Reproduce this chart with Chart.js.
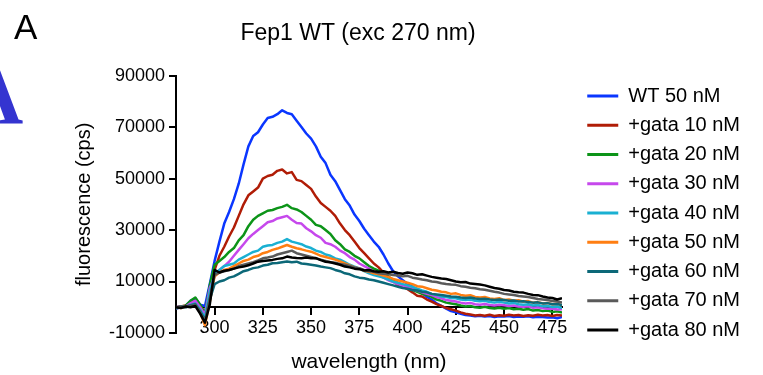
<!DOCTYPE html>
<html>
<head>
<meta charset="utf-8">
<title>Fep1 WT (exc 270 nm)</title>
<script src="https://cdn.jsdelivr.net/npm/chart.js@4.4.1/dist/chart.umd.min.js"></script>
<style>
  html, body { margin: 0; padding: 0; background: #fff; }
  #wrap { position: relative; width: 763px; height: 375px; overflow: hidden; }
  #chart { position: absolute; left: 0; top: 0; }
  .panel { position: absolute; line-height: 1; margin: 0; }
  #panel-a { left: 14px; top: 7px; font: 35px 'Liberation Sans', Arial, sans-serif; color: #000; }
  #panel-b { left: -36px; top: 49px; font: bold 82px 'Liberation Serif', 'Times New Roman', serif; color: #3434d0; }
</style>
</head>
<body>
<div id="wrap">
  <div class="panel" id="panel-b">A</div>
  <canvas id="chart" width="763" height="375"></canvas>
  <div class="panel" id="panel-a">A</div>
</div>
<script>
// ── Data ────────────────────────────────────────────────────────────────────

const WAVELENGTHS = [
  280, 282.5, 285, 287.5, 290, 292.5, 295, 297.5,
  300, 302.5, 305, 307.5, 310, 312.5, 315, 317.5,
  320, 322.5, 325, 327.5, 330, 332.5, 335, 337.5,
  340, 342.5, 345, 347.5, 350, 352.5, 355, 357.5,
  360, 362.5, 365, 367.5, 370, 372.5, 375, 377.5,
  380, 382.5, 385, 387.5, 390, 392.5, 395, 397.5,
  400, 402.5, 405, 407.5, 410, 412.5, 415, 417.5,
  420, 422.5, 425, 427.5, 430, 432.5, 435, 437.5,
  440, 442.5, 445, 447.5, 450, 452.5, 455, 457.5,
  460, 462.5, 465, 467.5, 470, 472.5, 475, 477.5,
  480
];

const WT_50 = [
  0, 300, 500, 2500, 3500, 1000, 500, 9000,
  18000, 25500, 32500, 37000, 42000, 48000, 55500, 62500,
  66500, 68000, 71000, 73500, 74000, 75000, 76500, 75500,
  75000, 72500, 70000, 67500, 65500, 62500, 58500, 56000,
  51500, 49000, 45500, 42000, 39500, 36000, 33500, 30500,
  28000, 25500, 23500, 20500, 17000, 14000, 12000, 10500,
  9000, 8000, 6500, 5500, 4000, 3000, 1500, 500,
  -500, -1500, -2000, -2500, -3000, -3200, -3500, -3300,
  -3600, -3400, -3800, -3500, -3600, -3400, -3800, -3600,
  -3700, -3500, -3900, -3700, -3800, -4000, -3900, -4300,
  -3800
];

const GATA_10 = [
  0, 300, 700, 1500, 2500, 500, -2000, 6000,
  14500, 20000, 23500, 27500, 31000, 35500, 40000, 43500,
  45000, 46500, 50000, 51000, 51500, 53000, 53500, 52000,
  52500, 49500, 49000, 47500, 46000, 43000, 40500, 39000,
  37500, 35500, 32500, 30000, 28000, 25500, 23000, 21000,
  19000, 17000, 15500, 13500, 11500, 10000, 8800, 8000,
  7000, 5800, 4500, 4200, 3000, 2200, 1200, 500,
  -300, -800, -1300, -2000, -2500, -2800, -3200, -3000,
  -3300, -2900, -3400, -3100, -3300, -2900, -3200, -3000,
  -3400, -3100, -3300, -2900, -3200, -3000, -3400, -3000,
  -3200
];

const GATA_20 = [
  -300, 200, 600, 2500, 3800, 1000, -2500, 8500,
  16500, 18000, 19500, 21500, 23000, 26000, 28000, 31500,
  34000, 35500, 36500, 37500, 37800, 38500, 39000, 39800,
  38500, 38000, 37000, 35500, 34000, 32000, 31500, 30000,
  28500, 26000, 24500, 22500, 21500, 20000, 19000, 17500,
  16000, 15000, 14200, 13000, 12000, 10500, 9500, 8500,
  7500, 6800, 6000, 5200, 4800, 4000, 3000, 2500,
  1800, 1500, 1200, 700, 300, 500, 0, -200,
  200, -300, -500, -200, -600, -300, -800, -600,
  -1000, -700, -1300, -1100, -1500, -1300, -1800, -1600,
  -2000
];

const GATA_30 = [
  -500, 0, 300, 1500, 2500, 0, -3000, 7500,
  12000, 14500, 16000, 17700, 20000, 22300, 24500, 26800,
  28500, 30000, 31500, 33000, 33500, 34500, 35000, 35500,
  34000, 32700, 32500, 30700, 29500, 28000, 27000, 25000,
  24500, 23500, 22000, 21000, 19500, 18500, 17000, 16000,
  15000, 13800, 12600, 11500, 10500, 9800, 9000, 8300,
  7800, 7000, 6500, 5800, 5200, 4700, 4000, 3500,
  2800, 2500, 2200, 1800, 1500, 1700, 1200, 1000,
  1300, 900, 700, 1000, 800, 500, 700, 300,
  200, 400, -200, 0, -400, -600, -500, -900,
  -800
];

const GATA_40 = [
  -300, 200, 0, 800, 1500, -1000, -4000, 6000,
  13000, 14500, 16000, 16500, 17000, 18500, 19500, 20500,
  21500, 22000, 23500, 24000, 24200, 25000, 25500, 26500,
  25500, 25000, 24500, 23600, 23000, 22000, 21500, 20500,
  20000, 19000, 18500, 17500, 16500, 15800, 15000, 14000,
  13200, 12500, 12000, 11500, 10800, 10000, 9500, 9000,
  8500, 8000, 7200, 6500, 6000, 5200, 4800, 4200,
  4000, 3600, 3500, 3000, 2800, 3000, 2500, 2300,
  2500, 2000, 1800, 2100, 1800, 1500, 1700, 1200,
  1000, 1200, 700, 900, 400, 500, 100, 300,
  -300
];

const GATA_50 = [
  0, -300, 300, 500, 1000, -2000, -7000, 2000,
  12000, 13500, 14500, 15000, 16000, 17000, 18000, 18500,
  19500, 20000, 21000, 21500, 22300, 22800, 23500, 24200,
  23500, 22900, 22500, 22000, 21600, 20800, 20000, 19500,
  19000, 18500, 17800, 17000, 16300, 15500, 15000, 14200,
  13800, 13200, 12800, 12300, 11800, 11000, 10500, 10000,
  9500, 9000, 8200, 8000, 7400, 6800, 6500, 6000,
  5800, 5200, 5400, 4800, 4500, 4700, 4000, 3800,
  4000, 3400, 3200, 3500, 2800, 3000, 2500, 2700,
  2200, 2400, 1800, 2000, 1500, 1700, 1200, 1400,
  800
];

const GATA_60 = [
  -500, 0, 200, 800, 1200, -1500, -5000, 3000,
  9000, 10000, 10500, 11500, 12000, 13000, 14000, 14500,
  15200, 15500, 16200, 16500, 17100, 17200, 17500, 17800,
  17500, 17700, 17000, 16800, 16500, 16200, 15800, 15500,
  15200, 14500, 14000, 13200, 12800, 12000, 11500, 11300,
  10800, 10500, 10000, 9500, 9000, 8500, 8000, 7500,
  7200, 6700, 6500, 6000, 5800, 5200, 5000, 4800,
  4500, 4200, 4100, 3800, 3600, 3800, 3400, 3200,
  3300, 3000, 2800, 3000, 2800, 2500, 2600, 2200,
  2300, 2000, 1800, 1900, 1500, 1600, 1200, 1300,
  900
];

const GATA_70 = [
  0, 300, 0, 500, 800, -2000, -5500, 3500,
  12500, 13500, 14000, 14500, 15000, 16000, 16500, 17000,
  17500, 18200, 19000, 19300, 19700, 20500, 21000, 21500,
  22000, 21000, 20500, 20000, 19500, 19000, 18500, 18000,
  17500, 17300, 16800, 16500, 16000, 15500, 15200, 14500,
  14000, 13800, 13200, 13000, 12800, 12500, 12300, 12000,
  12200, 11500, 11200, 10800, 10500, 10000, 9800, 9300,
  9000, 8800, 8700, 8200, 8000, 7600, 7400, 7000,
  6800, 6400, 6000, 5700, 5200, 5000, 4800, 4400,
  4200, 4000, 3600, 3200, 3000, 2800, 2400, 2200,
  1800
];

const GATA_80 = [
  0, -300, 300, 0, 500, -2500, -6000, 1000,
  14500, 13500, 14200, 14500, 15000, 15500, 15800, 16300,
  17000, 17700, 18000, 18200, 18400, 18800, 19000, 19700,
  19300, 19100, 19000, 19300, 19000, 19100, 18300, 17700,
  17500, 17000, 16500, 15800, 15500, 15000, 14800, 14300,
  14500, 14000, 13800, 14000, 13500, 13800, 13300, 13000,
  13500, 13200, 12600, 12800, 12300, 11800, 11500, 11200,
  11000, 10500, 10000, 9700, 9800, 9200, 9000, 8800,
  8500, 8000, 7500, 7200, 6700, 6500, 6000, 5800,
  5700, 5200, 4800, 4700, 4200, 3800, 3600, 3000,
  3500
];

const SERIES_NAMES = ['WT 50 nM', '+gata 10 nM', '+gata 20 nM', '+gata 30 nM', '+gata 40 nM',
                      '+gata 50 nM', '+gata 60 nM', '+gata 70 nM', '+gata 80 nM'];
const SERIES_VALUES = [WT_50, GATA_10, GATA_20, GATA_30, GATA_40, GATA_50, GATA_60, GATA_70, GATA_80];

const X_TICKS = [300, 325, 350, 375, 400, 425, 450, 475];
const Y_TICKS = [-10000, 10000, 30000, 50000, 70000, 90000];

// ── Styling ─────────────────────────────────────────────────────────────────

const COLORS = ['#0a36ff', '#b01c06', '#0c9418', '#c648ec', '#1ab0d2',
                '#ff7e12', '#0c6878', '#5a5a5a', '#000000'];

const FONT = "'Liberation Sans', Arial, Helvetica, sans-serif";
Chart.defaults.font.family = FONT;
Chart.defaults.color = '#000';

// Small layout nudges that Chart.js has no option for
const nudge = {
  id: 'nudge',
  afterLayout(chart) {
    const lg = chart.legend;
    lg.left += 16;  lg.right += 16;
    lg.top += 25.5; lg.bottom += 25.5;
    const t = chart.titleBlock;
    t.left -= 11;   t.right -= 11;
  }
};

// ── Chart ───────────────────────────────────────────────────────────────────

const datasets = SERIES_VALUES.map((values, i) => ({
  label: SERIES_NAMES[i],
  data: values.map((v, j) => ({ x: WAVELENGTHS[j], y: v })),
  borderColor: COLORS[i],
  backgroundColor: COLORS[i],
  borderWidth: 2.5,
  borderJoinStyle: 'round',
  pointRadius: 0,
  tension: 0,
  fill: false,
  order: SERIES_VALUES.length - i,   // later series drawn on top
}));

new Chart(document.getElementById('chart'), {
  type: 'line',
  data: { datasets },
  plugins: [nudge],
  options: {
    responsive: false,
    animation: false,
    layout: { padding: { left: 0, right: 29, top: 0, bottom: 0 } },
    plugins: {
      title: {
        display: true,
        text: 'Fep1 WT (exc 270 nm)',
        fullSize: false,
        color: '#000',
        font: { size: 23, weight: 'normal' },
        padding: { top: 20, bottom: 28 },
      },
      subtitle: {
        display: true,
        position: 'bottom',
        text: 'wavelength (nm)',
        fullSize: false,
        color: '#000',
        font: { size: 21, weight: 'normal' },
        padding: { top: 16.4, bottom: 0.4 },
      },
      legend: {
        position: 'right',
        labels: {
          color: '#000',
          font: { size: 20 },
          boxWidth: 31,
          boxHeight: 3,
          padding: 9.25,
          sort: (a, b) => a.datasetIndex - b.datasetIndex,
          generateLabels: chart =>
            Chart.defaults.plugins.legend.labels.generateLabels(chart)
              .map(item => ({ ...item, lineWidth: 0 })),
        },
      },
      tooltip: { enabled: false },
    },
    scales: {
      x: {
        type: 'linear',
        min: 280,
        max: 480,
        position: { y: 0 },
        afterBuildTicks: s => { s.ticks = X_TICKS.map(v => ({ value: v })); },
        afterFit: s => { s.height = 0; },
        ticks: { color: '#000', font: { size: 18 }, padding: 3, maxRotation: 0, autoSkip: false },
        grid: { drawOnChartArea: false, tickLength: 7, color: '#000', lineWidth: 2 },
        border: { color: '#000', width: 2 },
      },
      y: {
        min: -10000,
        max: 90000,
        afterBuildTicks: s => { s.ticks = Y_TICKS.map(v => ({ value: v })); },
        afterFit: s => { s.width = 176; },
        ticks: { color: '#000', font: { size: 18 }, padding: 4, callback: v => String(v) },
        grid: { drawOnChartArea: false, tickLength: 7, color: '#000', lineWidth: 2 },
        border: { color: '#000', width: 2 },
        title: {
          display: true,
          text: 'fluorescence (cps)',
          color: '#000',
          font: { size: 20 },
          padding: { top: 72, bottom: 0 },
        },
      },
    },
  },
});
</script>
</body>
</html>
